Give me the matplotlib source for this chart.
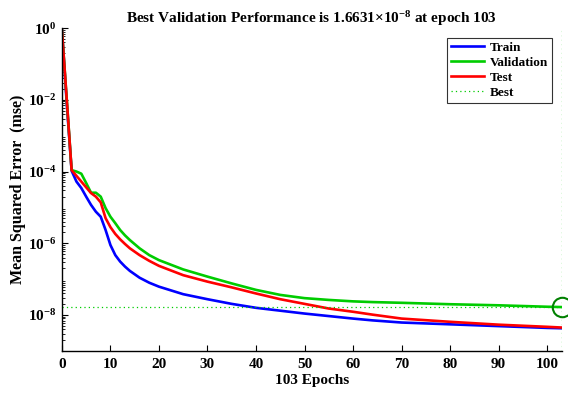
import numpy as np
import matplotlib
matplotlib.use('Agg')
import matplotlib.pyplot as plt
from matplotlib.ticker import LogLocator, FixedLocator

plt.rcParams['font.family'] = ['Liberation Serif', 'DejaVu Serif']
plt.rcParams['font.weight'] = 'bold'
plt.rcParams['mathtext.fontset'] = 'custom'
plt.rcParams['mathtext.rm'] = 'Liberation Serif:bold'
plt.rcParams['mathtext.it'] = 'Liberation Serif:bold:italic'
plt.rcParams['mathtext.bf'] = 'Liberation Serif:bold'
plt.rcParams['mathtext.default'] = 'regular'

epochs = [0, 1, 2, 3, 4, 5, 6, 7, 8, 9, 10, 11, 12, 13, 14, 16, 18, 20, 25, 30,
          35, 40, 45, 50, 55, 60, 64, 70, 80, 90, 100, 103]

# log10(mse) per series
train_exp = [-0.05, -2.1, -3.98, -4.28, -4.46, -4.70, -4.93, -5.12, -5.26, -5.63,
             -6.05, -6.33, -6.51, -6.65, -6.77, -6.96, -7.10, -7.21, -7.42, -7.56,
             -7.69, -7.80, -7.88, -7.96, -8.03, -8.10, -8.15, -8.21, -8.26, -8.31,
             -8.36, -8.37]
val_exp = [-0.05, -2.0, -3.96, -4.00, -4.06, -4.32, -4.59, -4.59, -4.70, -5.02,
           -5.26, -5.44, -5.63, -5.78, -5.91, -6.14, -6.33, -6.47, -6.73, -6.93,
           -7.12, -7.30, -7.44, -7.53, -7.58, -7.62, -7.64, -7.66, -7.70, -7.73,
           -7.77, -7.779]
test_exp = [-0.05, -2.0, -3.96, -4.12, -4.28, -4.44, -4.60, -4.70, -4.86, -5.30,
            -5.55, -5.74, -5.89, -6.02, -6.14, -6.33, -6.49, -6.63, -6.89, -7.07,
            -7.23, -7.40, -7.56, -7.69, -7.82, -7.91, -7.99, -8.10, -8.19, -8.27,
            -8.33, -8.35]

best_epoch = 103
best_perf = 1.6631e-8

train = 10 ** np.array(train_exp)
val = 10 ** np.array(val_exp)
test = 10 ** np.array(test_exp)

fig = plt.figure(figsize=(5.68, 3.96), dpi=100)
ax = fig.add_axes([0.109, 0.114, 0.880, 0.815])

ax.plot(epochs, train, color=(0, 0, 1), lw=1.9, label='Train')
ax.plot(epochs, val, color=(0, 0.8, 0), lw=1.9, label='Validation')
ax.plot(epochs, test, color=(1, 0, 0), lw=1.9, label='Test')
ax.axhline(best_perf, color=(0, 0.8, 0), lw=0.9, ls=(0, (1, 2.5)), label='Best')
ax.axvline(best_epoch, color=(0, 0.8, 0), lw=0.9, ls=(0, (1, 2.5)))
ax.plot([best_epoch], [best_perf], 'o', mfc='none', mec=(0, 0.5, 0),
        ms=14, mew=1.5, clip_on=False)

ax.set_yscale('log')
ax.set_xlim(0, 103)
ax.set_ylim(1e-9, 1e0)
ax.xaxis.set_major_locator(FixedLocator(range(0, 101, 10)))
ax.yaxis.set_major_locator(FixedLocator([1e-8, 1e-6, 1e-4, 1e-2, 1e0]))
ax.yaxis.set_minor_locator(LogLocator(base=10, subs=np.arange(2, 10)))

for s in ['top', 'right']:
    ax.spines[s].set_visible(False)
for s in ['left', 'bottom']:
    ax.spines[s].set_linewidth(1.0)

ax.tick_params(which='major', direction='in', length=4, width=0.8, labelsize=11)
ax.tick_params(axis='x', which='major', pad=5.5)
ax.tick_params(axis='y', which='major', pad=4)
ax.tick_params(which='minor', direction='in', length=2, width=0.6)
for lbl in ax.get_xticklabels() + ax.get_yticklabels():
    lbl.set_fontweight('bold')

ax.set_title('Best Validation Performance is 1.6631\u00d710$^{-8}$ at epoch 103',
             fontsize=11, fontweight='bold', pad=4)
ax.set_xlabel('103 Epochs', fontsize=11, fontweight='bold', labelpad=2)
ax.set_ylabel('Mean Squared Error  (mse)', fontsize=11.5, fontweight='bold', labelpad=1)

leg = ax.legend(loc='upper right', bbox_to_anchor=(0.98, 0.97), fancybox=False,
                edgecolor='black', fontsize=9.5, handlelength=2.5, borderpad=0.3,
                labelspacing=0.2, handletextpad=0.4, borderaxespad=0)
leg.get_frame().set_linewidth(0.8)
for t in leg.get_texts():
    t.set_fontweight('bold')

fig.savefig('out.png', dpi=100)
